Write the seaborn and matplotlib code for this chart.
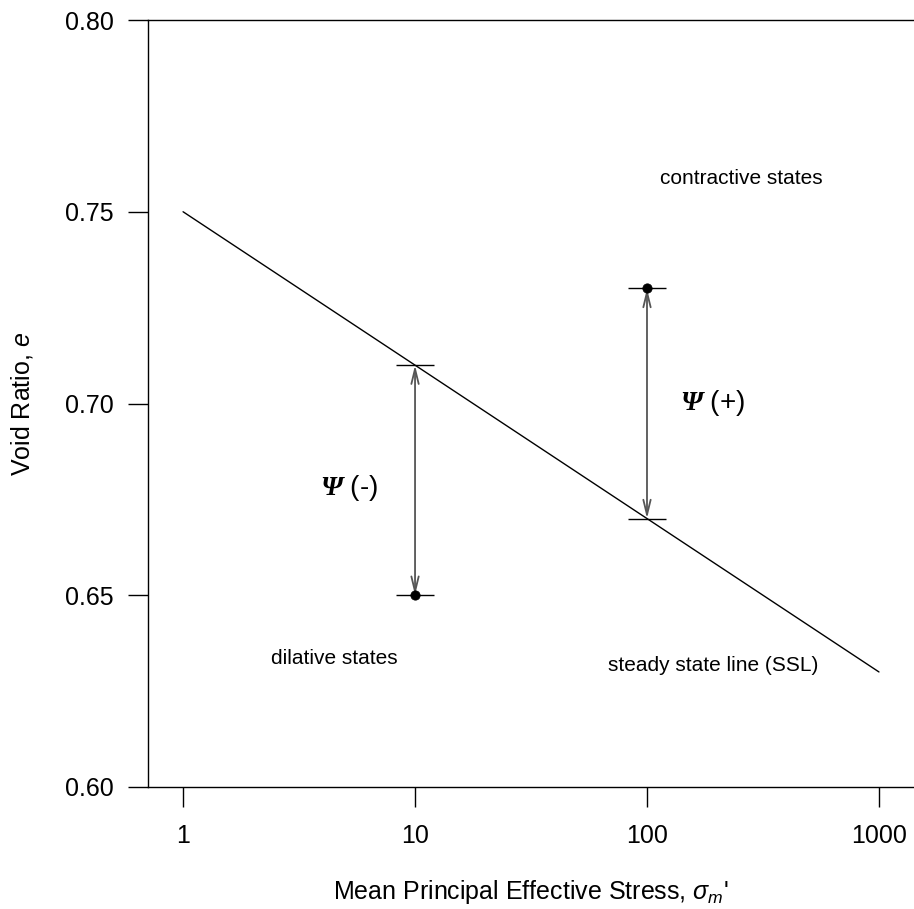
import matplotlib
matplotlib.use("Agg")
import matplotlib.pyplot as plt
import seaborn as sns
import pandas as pd

# ---- data ----
ssl_stress = [1, 1000]
ssl_void = [0.75, 0.63]
state_stress = [10, 100]
state_void = [0.65, 0.73]
ssl_void_at_state = [0.71, 0.67]
psi_labels = ["(-)", "(+)"]
psi_label_x = [5.2, 192]
psi_label_y = [0.678, 0.700]
x_ticks = [1, 10, 100, 1000]
x_ticklabels = ["1", "10", "100", "1000"]
y_ticks = [0.60, 0.65, 0.70, 0.75, 0.80]
y_ticklabels = ["0.60", "0.65", "0.70", "0.75", "0.80"]
region_texts = ["contractive states", "dilative states", "steady state line (SSL)"]
region_x = [254, 4.5, 192]
region_y = [0.7588, 0.6336, 0.6318]

sns.set_theme(style="ticks")
plt.rcParams["font.family"] = ["Liberation Sans", "DejaVu Sans"]
plt.rcParams["mathtext.fontset"] = "custom"
plt.rcParams["mathtext.rm"] = "Liberation Sans"
plt.rcParams["mathtext.it"] = "Liberation Sans:italic"
plt.rcParams["mathtext.bf"] = "Liberation Serif:italic:bold"
plt.rcParams["text.color"] = "black"
plt.rcParams["axes.labelcolor"] = "black"
plt.rcParams["xtick.color"] = "black"
plt.rcParams["ytick.color"] = "black"

fig = plt.figure(figsize=(9.14, 9.09), dpi=100)
ax = fig.add_axes([148 / 914, 1 - 787 / 909, 1 - 148 / 914, (787 - 20) / 909])

ssl_df = pd.DataFrame({"stress": ssl_stress, "void": ssl_void})
sns.lineplot(data=ssl_df, x="stress", y="void", ax=ax, color="black", lw=1.0)

# horizontal bars at states and on SSL
bar_df = pd.DataFrame({"stress": state_stress + state_stress,
                       "void": state_void + ssl_void_at_state})
ax.plot(bar_df["stress"], bar_df["void"], linestyle="none", marker="_",
        markersize=28, markeredgewidth=1.0, color="black")

# arrows
for xs, y0, y1 in zip(state_stress, state_void, ssl_void_at_state):
    ax.annotate("", xy=(xs, y0), xytext=(xs, y1),
                arrowprops=dict(arrowstyle="<->,head_length=0.9,head_width=0.22",
                                color="#555555", lw=1.3, shrinkA=0, shrinkB=0))

state_df = pd.DataFrame({"stress": state_stress, "void": state_void})
sns.scatterplot(data=state_df, x="stress", y="void", ax=ax, color="black",
                s=45, edgecolor="black", zorder=5)

for lab, lx, ly in zip(psi_labels, psi_label_x, psi_label_y):
    ax.text(lx, ly, r"$\mathbf{\Psi}$ " + lab, fontsize=20, ha="center", va="center",
            color="black")

for t, tx, ty in zip(region_texts, region_x, region_y):
    ax.text(tx, ty, t, fontsize=15, ha="center", va="center", color="black")

ax.set_xscale("log")
ax.set_xlim(0.706, 1416)
ax.set_ylim(0.60, 0.80)
ax.set_xticks(x_ticks)
ax.set_xticklabels(x_ticklabels)
ax.minorticks_off()
ax.set_yticks(y_ticks)
ax.set_yticklabels(y_ticklabels)

for side in ["left", "top", "bottom"]:
    ax.spines[side].set_visible(True)
    ax.spines[side].set_color("black")
    ax.spines[side].set_linewidth(1.0)
ax.spines["right"].set_visible(False)

ax.tick_params(axis="both", direction="out", length=14.4, width=1.0, colors="black",
               labelsize=18)
ax.tick_params(axis="y", pad=10)
ax.tick_params(axis="x", pad=12)

ax.set_xlabel(r"Mean Principal Effective Stress, $\sigma_m$'", fontsize=18, labelpad=22,
              color="black")
ax.set_ylabel(r"Void Ratio, $e$", fontsize=18, labelpad=22, color="black")
ax.set_facecolor("white")
fig.patch.set_facecolor("white")

fig.savefig("out.png", dpi=100, facecolor="white")
